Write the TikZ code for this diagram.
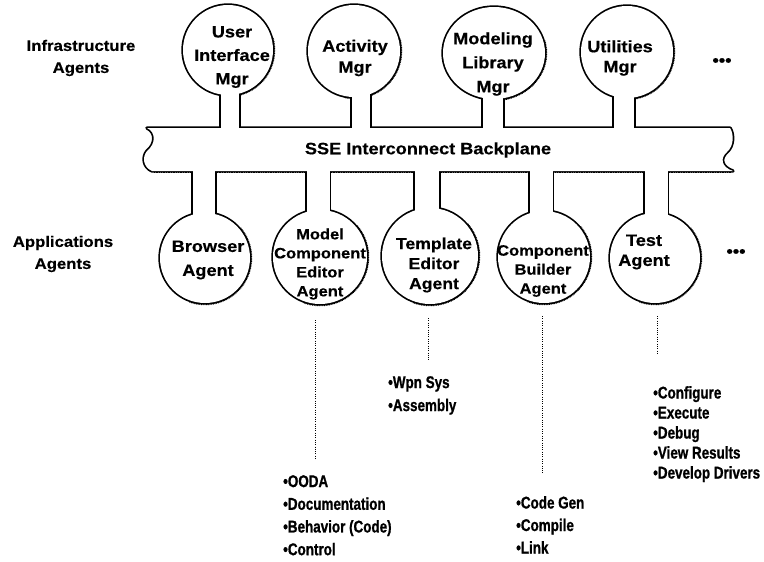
\documentclass[tikz,border=0pt]{standalone}
\usepackage{fontspec}
\setmainfont{Liberation Sans}[FakeStretch=1.1, FakeBold=0.4]
\newfontfamily\tasklistfont{Liberation Sans}[FakeStretch=0.79, FakeBold=0.9]
\usetikzlibrary{shapes.geometric}

\tikzset{
  rim/.style={draw=black, line width=3.4pt, line join=round},
  hollow/.style={fill=white, draw=none},
  agentring/.style={ellipse, draw=black, line width=3.4pt, inner sep=0pt, outer sep=0pt},
  grit/.style={draw=black, line width=1.3pt, dash pattern=on 0.8pt off 0.9pt},
  ctext/.style={align=center, inner sep=0pt},
  side/.style={align=center, inner sep=0pt, font=\bfseries\fontsize{15.2}{22}\selectfont},
  items/.style={align=left, inner sep=0pt, anchor=north west},
  dotline/.style={draw=black, line width=0.8pt, dash pattern=on 0.8pt off 1.5pt},
  more/.style={inner sep=0pt, font=\bfseries\fontsize{16.5}{20}\selectfont},
  bus/.style={insert path={
    -- (730,128) .. controls (734,134) and (734,146) .. (727,152)
    .. controls (720,158) and (721,167) .. (733,171)
    -- (152,171) .. controls (143,167) and (142,157) .. (147,151)
    .. controls (156,144) and (156,132) .. (147,128) -- cycle}}
}

% name / centre x / centre y / radius x / radius y / neck x / neck width
\def\upperagents{ui/228/50/45/45/230/18, act/354/51/46/46/361/18,
  mod/494/53/51/46/493/20, util/627/52/46/46/624/20}
\def\loweragents{brow/205/258/45/45/204/22, mce/320/257/47/47/318/23,
  tea/430/256/48/48/427/24, cba/544/257/46/46/541/23, test/655/258/45/45/656/23}

\begin{document}
\begin{tikzpicture}[x=1pt, y=-1pt]
\useasboundingbox (0,0) rectangle (764,562);
\fill[white] (0,0) rectangle (764,562);

% ---- outline pass: thick strokes of every piece
\draw[rim] (147,128) [bus];
\foreach \n/\x/\y/\rx/\ry/\nx/\nw in \upperagents {
  \node[agentring, minimum width=2*\rx, minimum height=2*\ry] (\n) at (\x,\y) {};
  \draw[rim] (\nx-\nw/2,\y) rectangle (\nx+\nw/2,150);
  \draw[grit] (\x,\y) ++(-15:{\rx+1.6} and {\ry+1.6})
    arc[start angle=-15, end angle=100, x radius=\rx+1.6, y radius=\ry+1.6];
}
\foreach \n/\x/\y/\rx/\ry/\nx/\nw in \loweragents {
  \node[agentring, minimum width=2*\rx, minimum height=2*\ry] (\n) at (\x,\y) {};
  \draw[rim] (\nx-\nw/2,150) rectangle (\nx+\nw/2,\y);
  \draw[grit] (\x,\y) ++(-40:{\rx+1.6} and {\ry+1.6})
    arc[start angle=-40, end angle=110, x radius=\rx+1.6, y radius=\ry+1.6];
}
\draw[grit] (154,172.6) -- (731,172.6);

% ---- interior pass: white fill merges the pieces into one body
\fill[hollow] (147,128) [bus];
\foreach \n/\x/\y/\rx/\ry/\nx/\nw in \upperagents {
  \fill[hollow] (\x,\y) ellipse [x radius=\rx, y radius=\ry];
  \fill[hollow] (\nx-\nw/2,\y) rectangle (\nx+\nw/2,150);
}
\foreach \n/\x/\y/\rx/\ry/\nx/\nw in \loweragents {
  \fill[hollow] (\x,\y) ellipse [x radius=\rx, y radius=\ry];
  \fill[hollow] (\nx-\nw/2,150) rectangle (\nx+\nw/2,\y);
}

% ---- backplane caption
\node[ctext, font=\bfseries\fontsize{16.5}{20}\selectfont] (bus-t) at (428,150) {SSE Interconnect Backplane};

% ---- agent captions
\node[ctext, font=\bfseries\fontsize{16.5}{23.5}\selectfont] (ui-t) at (232,57) {User\\Interface\\Mgr};
\node[ctext, font=\bfseries\fontsize{16.5}{21}\selectfont] (act-t) at (355,58) {Activity\\Mgr};
\node[ctext, font=\bfseries\fontsize{16.5}{24}\selectfont] (mod-t) at (493,64) {Modeling\\Library\\Mgr};
\node[ctext, font=\bfseries\fontsize{16.5}{20}\selectfont] (util-t) at (620,58) {Utilities\\Mgr};

\node[ctext, font=\bfseries\fontsize{16.5}{24}\selectfont] (brow-t) at (208,260) {Browser\\Agent};
\node[ctext, font=\bfseries\fontsize{15}{19}\selectfont] (mce-t) at (320,264) {Model\\Component\\Editor\\Agent};
\node[ctext, font=\bfseries\fontsize{16}{20}\selectfont] (tea-t) at (434,265) {Template\\Editor\\Agent};
\node[ctext, font=\bfseries\fontsize{15}{19}\selectfont] (cba-t) at (543,271) {Component\\Builder\\Agent};
\node[ctext, font=\bfseries\fontsize{16.5}{20}\selectfont] (test-t) at (644,252) {Test\\Agent};

% ---- row labels and continuation marks
\node[side] (infra) at (81,58) {Infrastructure\\Agents};
\node[side] (apps) at (63,254) {Applications\\Agents};
\node[more] (more-top) at (722,62) {•••};
\node[more] (more-bot) at (736,253) {•••};

% ---- dotted leaders to the task lists
\coordinate (mce-d) at (315,460);
\coordinate (tea-d) at (428,360);
\coordinate (cba-d) at (542,473);
\coordinate (test-d) at (657,355);
\draw[dotline] ([xshift=-5pt,yshift=-16pt]mce.south) -- (mce-d);
\draw[dotline] ([xshift=-2pt,yshift=-14pt]tea.south) -- (tea-d);
\draw[dotline] ([xshift=-2pt,yshift=-13pt]cba.south) -- (cba-d);
\draw[dotline] ([xshift=2pt,yshift=-13pt]test.south) -- (test-d);

% ---- task lists
\node[items, font=\tasklistfont\bfseries\fontsize{17}{22.7}\selectfont] (mce-list) at (283,475)
  {•OODA\\•Documentation\\•Behavior (Code)\\•Control};
\node[items, font=\tasklistfont\bfseries\fontsize{17}{23}\selectfont] (tea-list) at (388,376)
  {•Wpn Sys\\•Assembly};
\node[items, font=\tasklistfont\bfseries\fontsize{17}{22.5}\selectfont] (cba-list) at (516,496)
  {•Code Gen\\•Compile\\•Link};
\node[items, font=\tasklistfont\bfseries\fontsize{17}{20}\selectfont] (test-list) at (653,386)
  {•Configure\\•Execute\\•Debug\\•View Results\\•Develop Drivers};
\end{tikzpicture}
\end{document}
